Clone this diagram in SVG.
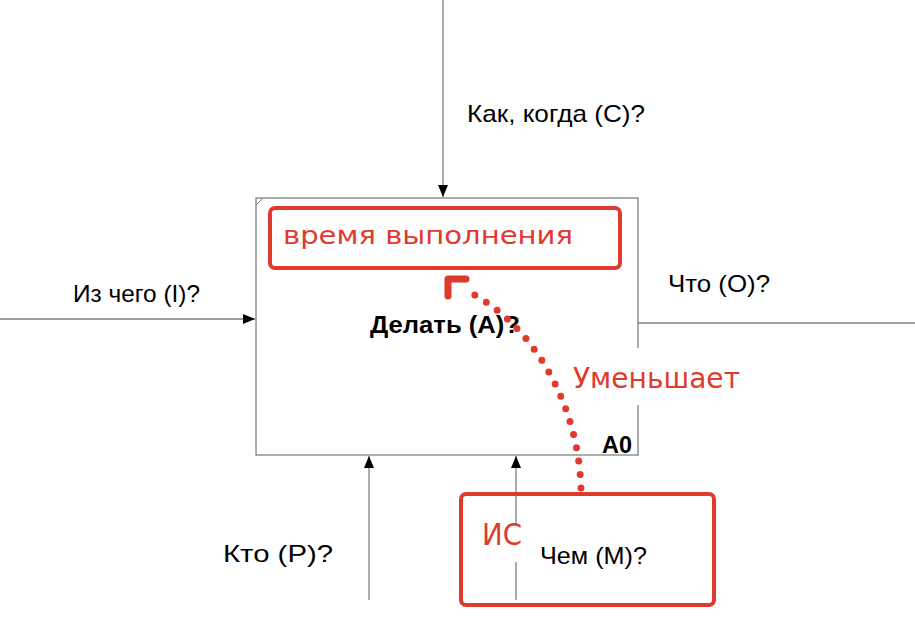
<svg xmlns="http://www.w3.org/2000/svg" width="915" height="627" viewBox="0 0 915 627">
<style>
.ln{stroke:#808080;stroke-width:1.3;fill:none}
.lbl{font-family:"Liberation Sans",Arial,sans-serif;font-size:24px;fill:#000}
.bold{font-weight:bold}
.red{font-family:"DejaVu Sans","Liberation Sans",sans-serif;fill:#e0392e}
.rbox{fill:none;stroke:#e0392e;stroke-width:4}
</style>
<defs>
<marker id="ah" markerWidth="12" markerHeight="10" refX="12" refY="5" orient="auto" markerUnits="userSpaceOnUse">
<path d="M0,0 L12,5 L0,10 Z" fill="#000"/>
</marker>
</defs>
<rect width="915" height="627" fill="#fff"/>
<g id="connectors">
<line class="ln" x1="443" y1="0" x2="443" y2="197" marker-end="url(#ah)"/>
<line class="ln" x1="0" y1="319" x2="255" y2="319" marker-end="url(#ah)"/>
<line class="ln" x1="638" y1="323" x2="915" y2="323"/>
<line class="ln" x1="369" y1="600" x2="369" y2="456" marker-end="url(#ah)"/>
<line class="ln" x1="516" y1="600" x2="516" y2="456" marker-end="url(#ah)"/>
</g>
<g id="node-A0">
<rect x="256" y="198" width="382" height="257" fill="none" stroke="#808080" stroke-width="1.3"/>
<path d="M256,205 L263,198" stroke="#808080" stroke-width="1"/>
<text class="lbl bold" x="370" y="333" textLength="150" lengthAdjust="spacingAndGlyphs">Делать (A)?</text>
<text class="lbl bold" x="602" y="453" font-size="23" textLength="30" lengthAdjust="spacingAndGlyphs">A0</text>
</g>
<g id="labels">
<text class="lbl" x="467" y="122" textLength="178" lengthAdjust="spacingAndGlyphs">Как, когда (C)?</text>
<text class="lbl" x="73" y="302" textLength="127" lengthAdjust="spacingAndGlyphs">Из чего (I)?</text>
<text class="lbl" x="668" y="292" textLength="102" lengthAdjust="spacingAndGlyphs">Что (O)?</text>
<text class="lbl" x="223" y="562" textLength="110" lengthAdjust="spacingAndGlyphs">Кто (P)?</text>
<text class="lbl" x="540" y="564" textLength="107" lengthAdjust="spacingAndGlyphs">Чем (M)?</text>
</g>
<g id="annotation-time">
<rect class="rbox" x="270" y="208" width="350" height="60" rx="5"/>
<text class="red" x="283" y="244" font-size="25" textLength="290" lengthAdjust="spacingAndGlyphs">время выполнения</text>
</g>
<g id="annotation-reduce">
<rect x="556" y="348" width="190" height="57" fill="#fff"/>
<path d="M581,488 C578,400 530,320 463,289" fill="none" stroke="#e0392e" stroke-width="7" stroke-linecap="round" stroke-dasharray="0 13.5"/>
<path d="M448,296 L448,279 L466,279" fill="none" stroke="#e0392e" stroke-width="7" stroke-linecap="round" stroke-linejoin="round"/>
<text class="red" x="573" y="388" font-size="28" textLength="167" lengthAdjust="spacingAndGlyphs">Уменьшает</text>
</g>
<g id="annotation-is">
<rect x="470" y="526" width="48" height="36" fill="#fff"/>
<rect class="rbox" x="461" y="494" width="253" height="111" rx="5"/>
<text class="red" x="482" y="545" font-size="31" textLength="40" lengthAdjust="spacingAndGlyphs">ИС</text>
</g>
</svg>
